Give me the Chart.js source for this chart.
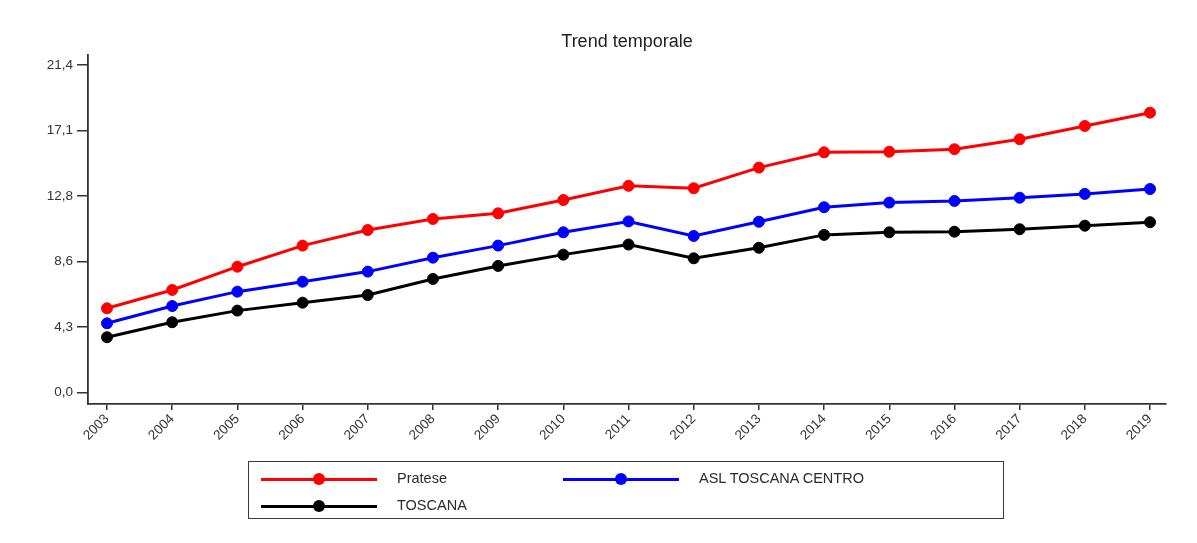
<!DOCTYPE html>
<html>
<head>
<meta charset="utf-8">
<script src="https://cdn.jsdelivr.net/npm/chart.js@4/dist/chart.umd.min.js"></script>
<style>
  html, body { margin: 0; padding: 0; background: #fff; }
  #wrap { position: relative; width: 1197px; height: 543px; }
  #c { position: absolute; left: 0; top: 0; }
  #legend {
    position: absolute; left: 248px; top: 461px; width: 756px; height: 58px;
    border: 1.5px solid #3a3a3a; box-sizing: border-box;
    font-family: "Liberation Sans", Arial, sans-serif; font-size: 14.5px; color: #2a2a2a;
  }
  .item { position: absolute; height: 20px; }
  .sw { position: absolute; left: 0; top: 8.5px; width: 116px; height: 3px; }
  .dot { position: absolute; left: 52px; top: 4px; width: 12px; height: 12px; border-radius: 50%; }
  .lbl { position: absolute; left: 136px; top: 1px; white-space: nowrap; }
</style>
</head>
<body>
<div id="wrap">
  <canvas id="c" width="1197" height="543"></canvas>
  <div id="legend"></div>
</div>
<script>
const years = [2003, 2004, 2005, 2006, 2007, 2008, 2009, 2010, 2011, 2012, 2013, 2014, 2015, 2016, 2017, 2018, 2019];
const pratese = [5.49, 6.69, 8.21, 9.59, 10.61, 11.33, 11.70, 12.57, 13.50, 13.34, 14.69, 15.69, 15.73, 15.89, 16.54, 17.41, 18.28];
const aslToscanaCentro = [4.51, 5.64, 6.58, 7.23, 7.89, 8.80, 9.59, 10.46, 11.17, 10.22, 11.15, 12.10, 12.40, 12.51, 12.72, 12.97, 13.29];
const toscana = [3.60, 4.58, 5.34, 5.86, 6.36, 7.41, 8.26, 9.00, 9.66, 8.76, 9.45, 10.29, 10.46, 10.50, 10.66, 10.89, 11.12];
const seriesNames = ["Pratese", "ASL TOSCANA CENTRO", "TOSCANA"];
const yTickValues = [0, 4.28, 8.56, 12.84, 17.12, 21.4];
const yTickLabels = ["0,0", "4,3", "8,6", "12,8", "17,1", "21,4"];
const titleText = "Trend temporale";

const colors = ["#ff0000", "#0000ff", "#000000"];
const seriesValues = [pratese, aslToscanaCentro, toscana];

const datasets = seriesValues.map((vals, s) => ({
  label: seriesNames[s],
  data: years.map((yr, i) => ({ x: yr, y: vals[i] })),
  borderColor: colors[s],
  backgroundColor: colors[s],
  pointBackgroundColor: colors[s],
  pointBorderColor: colors[s],
  borderWidth: 3,
  pointRadius: 5.5,
  pointBorderWidth: 1,
  tension: 0,
  fill: false
}));

const font = "'Liberation Sans', Arial, sans-serif";

new Chart(document.getElementById('c'), {
  type: 'line',
  data: { datasets },
  options: {
    responsive: false,
    animation: false,
    events: [],
    layout: { padding: { left: 0, right: 31, top: 0, bottom: 94 } },
    plugins: {
      legend: { display: false },
      tooltip: { enabled: false },
      title: {
        display: true,
        text: titleText,
        fullSize: false,
        color: '#222',
        font: { family: font, size: 18, weight: 'normal' },
        padding: { top: 31, bottom: 2.4 }
      }
    },
    scales: {
      x: {
        type: 'linear',
        min: 2002.7085,
        max: 2019.245,
        afterFit: (s) => { s.height = 45; },
        afterBuildTicks: (s) => { s.ticks = years.map(v => ({ value: v })); },
        grid: { drawOnChartArea: false, drawTicks: true, tickLength: 6, color: '#333', lineWidth: 1.5 },
        border: { display: true, color: '#333', width: 1.8 },
        ticks: {
          autoSkip: false,
          maxRotation: 45, minRotation: 45,
          padding: 1,
          color: '#333',
          font: { family: font, size: 13.5 },
          callback: (v) => String(v)
        }
      },
      y: {
        type: 'linear',
        min: -0.765,
        max: 22.05,
        afterFit: (s) => { s.width = 88; },
        afterBuildTicks: (s) => { s.ticks = yTickValues.map(v => ({ value: v })); },
        grid: { drawOnChartArea: false, drawTicks: true, tickLength: 11, color: '#333', lineWidth: 1.5 },
        border: { display: true, color: '#333', width: 1.8 },
        ticks: {
          padding: 4,
          color: '#333',
          font: { family: font, size: 13.5 },
          callback: (v, i) => yTickLabels[i]
        }
      }
    }
  }
});

// HTML legend built from the datasets
const legend = document.getElementById('legend');
const slots = [ { left: 12, top: 7 }, { left: 314, top: 7 }, { left: 12, top: 34 } ];
datasets.forEach((ds, i) => {
  const it = document.createElement('div');
  it.className = 'item';
  it.style.left = slots[i].left + 'px';
  it.style.top = slots[i].top + 'px';
  const sw = document.createElement('div'); sw.className = 'sw'; sw.style.background = ds.borderColor;
  const dot = document.createElement('div'); dot.className = 'dot'; dot.style.background = ds.borderColor;
  const lbl = document.createElement('span'); lbl.className = 'lbl'; lbl.textContent = ds.label;
  it.appendChild(sw); it.appendChild(dot); it.appendChild(lbl);
  legend.appendChild(it);
});
</script>
</body>
</html>
